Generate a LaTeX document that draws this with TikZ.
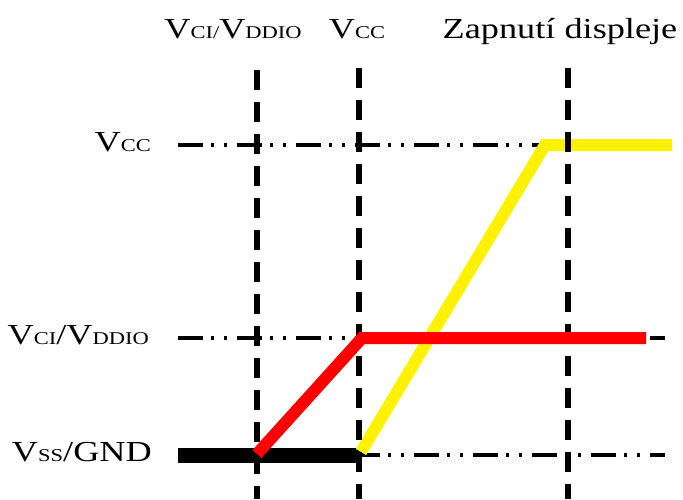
\documentclass[tikz,border=0pt]{standalone}
\usepackage{fontspec}
\setmainfont{Liberation Serif}
\usetikzlibrary{positioning,calc}

\newcommand{\smcap}[1]{{\fontsize{18}{18}\selectfont #1}}
\newcommand{\widen}[1]{\scalebox{1.25}[1]{#1}}

\begin{document}
\begin{tikzpicture}[x=1pt,y=-1pt,
		lbl/.style={inner sep=0pt,font=\fontsize{29}{29}\selectfont},
		gridline/.style={line width=6pt,dash pattern=on 20pt off 12pt},
		levelline/.style={line width=3.5pt,dash pattern=on 25pt off 8pt on 3pt off 10pt on 3pt off 10pt},
		trace/.style={line width=12pt,line join=miter}]
		\useasboundingbox (0,0) rectangle (683,499);
		
		% levels
		\def \xl {178}
		\def \xr {665}
		\coordinate (vccL) at (\xl,145);  \coordinate (vccR) at (\xr,145);
		\coordinate (vciL) at (\xl,338);  \coordinate (vciR) at (\xr,338);
		\coordinate (vssL) at (\xl,455);  \coordinate (vssR) at (\xr,455);
		
		% time marks
		\coordinate (t1) at (257,70);  \coordinate (b1) at (257,499);
		\coordinate (t2) at (359,68);  \coordinate (b2) at (359,499);
		\coordinate (t3) at (568,68);  \coordinate (b3) at (568,499);
		
		\node[lbl,anchor=base] (topvci) at (233,38) {\widen{V\smcap{CI/}V\smcap{DDIO}}};
		\node[lbl,anchor=base] (topvcc) at (357,38) {\widen{V\smcap{CC}}};
		\node[lbl,anchor=base] (topon) at (560,38) {\widen{Zapnutí displeje}};
		
		\node[lbl,anchor=base east] (lvcc) at (151,151) {\widen{V\smcap{CC}}};
		\node[lbl,anchor=base east] (lvci) at (149,344) {\widen{V\smcap{CI}/V\smcap{DDIO}}};
		\node[lbl,anchor=base east] (lvss) at (152,461) {\widen{V\smcap{SS}/GND}};
		
		\draw[levelline] (vccL) -- (vccR);
		\draw[levelline] (vciL) -- (vciR);
		\draw[levelline] (vssL) -- (vssR);
		
		\draw[line width=15pt] (vssL) -- (361,455);
		
		\draw[yellow,trace] (361,452) -- (545,145) -- (672,145);
		
		\draw[gridline] (t1) -- (b1);
		\draw[gridline] (t2) -- (b2);
		\draw[gridline] (t3) -- (b3);
		
		\draw[red,trace] (257,454) -- (362,338) -- (646,338);
\end{tikzpicture}
\end{document}
